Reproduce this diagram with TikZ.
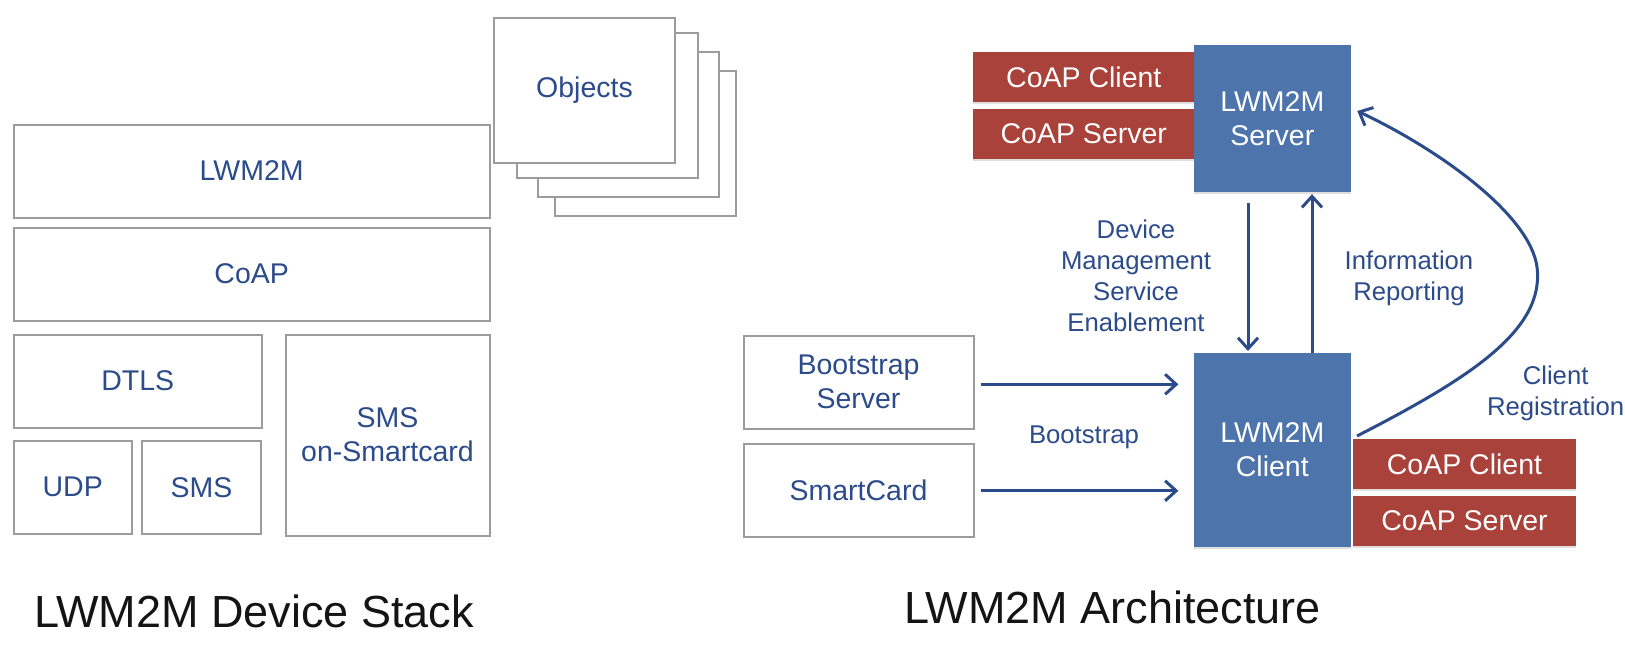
\documentclass[tikz,border=0pt]{standalone}
\usepackage{fontspec}
\setmainfont{Liberation Sans}
\usetikzlibrary{arrows.meta,calc,shadows}
\definecolor{gbox}{HTML}{9C9C9C}
\definecolor{navy}{HTML}{2C4B8B}
\definecolor{bluebx}{HTML}{4E74AC}
\definecolor{redbx}{HTML}{A8423A}
\newcommand\bxf{\fontsize{28.5}{34}\selectfont}
\newcommand\lbf{\fontsize{25.7}{31}\selectfont}
\newcommand\tlf{\fontsize{45}{54}\selectfont}
\begin{document}
\begin{tikzpicture}[x=1pt,y=-1pt,
  gb/.style={draw=gbox,line width=2pt,fill=white,inner sep=0pt,font=\bxf,text=navy,align=center},
  bb/.style={fill=bluebx,inner sep=0pt,font=\bxf,text=white,align=center,
     drop shadow={shadow xshift=0pt,shadow yshift=-2pt,opacity=0.25}},
  rb/.style={fill=redbx,inner sep=0pt,font=\bxf,text=white,align=center,
     drop shadow={shadow xshift=0pt,shadow yshift=-2pt,opacity=0.25}},
  lbl/.style={font=\lbf,text=navy,align=center,inner sep=0pt},
  ttl/.style={font=\tlf,text=black!92,anchor=base west,inner sep=0pt},
  arr/.style={draw=navy,line width=3pt,-{Straight Barb[length=11pt,width=20pt]}}
]
\useasboundingbox[fill=white] (0,0) rectangle (1625,651);

% ---------- Device stack ----------
\node[gb,minimum width=476pt,minimum height=93pt] (lwm2m) at (251.7,171) {LWM2M};
\node[gb,minimum width=476pt,minimum height=93pt] (coap) at (251.7,274) {CoAP};
\node[gb,minimum width=248pt,minimum height=93pt] (dtls) at (137.7,381) {DTLS};
\node[gb,minimum width=118pt,minimum height=92.5pt] (udp) at (72.7,487.3) {UDP};
\node[gb,minimum width=118.5pt,minimum height=92.5pt] (sms) at (201.5,487.3) {SMS};
\node[gb,minimum width=204pt,minimum height=201pt] (smssc) at (387.5,435) {SMS\\on-Smartcard};

\node[gb,minimum width=181pt,minimum height=145pt] (obj4) at (645,143.3) {};
\node[gb,minimum width=181pt,minimum height=145pt] (obj3) at (628,124.5) {};
\node[gb,minimum width=181pt,minimum height=145pt] (obj2) at (607,105.2) {};
\node[gb,minimum width=181pt,minimum height=145pt] (obj1) at (584.5,90) {Objects};

\node[ttl] (t1) at (34.4,627) {LWM2M Device Stack};

% ---------- Architecture ----------
\node[rb,minimum width=222.4pt,minimum height=50pt] (srvcc) at (1083.8,77.3) {CoAP Client};
\node[rb,minimum width=222.4pt,minimum height=50.3pt] (srvcs) at (1083.8,133.8) {CoAP Server};
\node[bb,minimum width=157.5pt,minimum height=146.7pt] (server) at (1272.3,118.3) {LWM2M\\Server};

\node[rb,minimum width=223pt,minimum height=50.6pt] (clicc) at (1464.5,464) {CoAP Client};
\node[rb,minimum width=223pt,minimum height=50.3pt] (clics) at (1464.5,520.8) {CoAP Server};
\node[bb,minimum width=157.5pt,minimum height=194pt] (client) at (1272.3,449.7) {LWM2M\\Client};

\node[gb,minimum width=230pt,minimum height=93pt] (bss) at (858.5,382) {Bootstrap\\Server};
\node[gb,minimum width=230pt,minimum height=93pt] (sc) at (858.5,490.8) {SmartCard};

% arrows
\draw[arr,shorten <=6pt,shorten >=15pt] ([yshift=-2.3pt]bss.east) -- ([yshift=-2.3pt]bss.east -| client.west);
\draw[arr,shorten <=6pt,shorten >=15pt] (sc.east) -- (sc.east -| client.west);
\draw[arr,shorten <=11.3pt,shorten >=1.5pt] ([xshift=-24.3pt]server.south) -- ([xshift=-24.3pt]client.north);
\draw[arr,shorten >=2.3pt] ([xshift=39.7pt]client.north) -- ([xshift=39.7pt]server.south);

\coordinate (cs) at (1357,436);
\coordinate (ce) at ($(server.east)+(6,-7.3)$);
\draw[arr] (cs) .. controls (1470,378) and (1545,330) .. (1537,267)
               .. controls (1530,215) and (1440,150) .. (ce);

% labels
\node[lbl] (dm) at (1136,276) {Device\\Management\\Service\\Enablement};
\node[lbl] (ir) at (1409,278.5) {Information\\Reporting};
\node[lbl] (bs) at (1084,437.3) {Bootstrap};
\node[lbl] (cr) at (1555.6,393.5) {Client\\Registration};

\node[ttl] (t2) at (904,623.3) {LWM2M Architecture};
\end{tikzpicture}
\end{document}
